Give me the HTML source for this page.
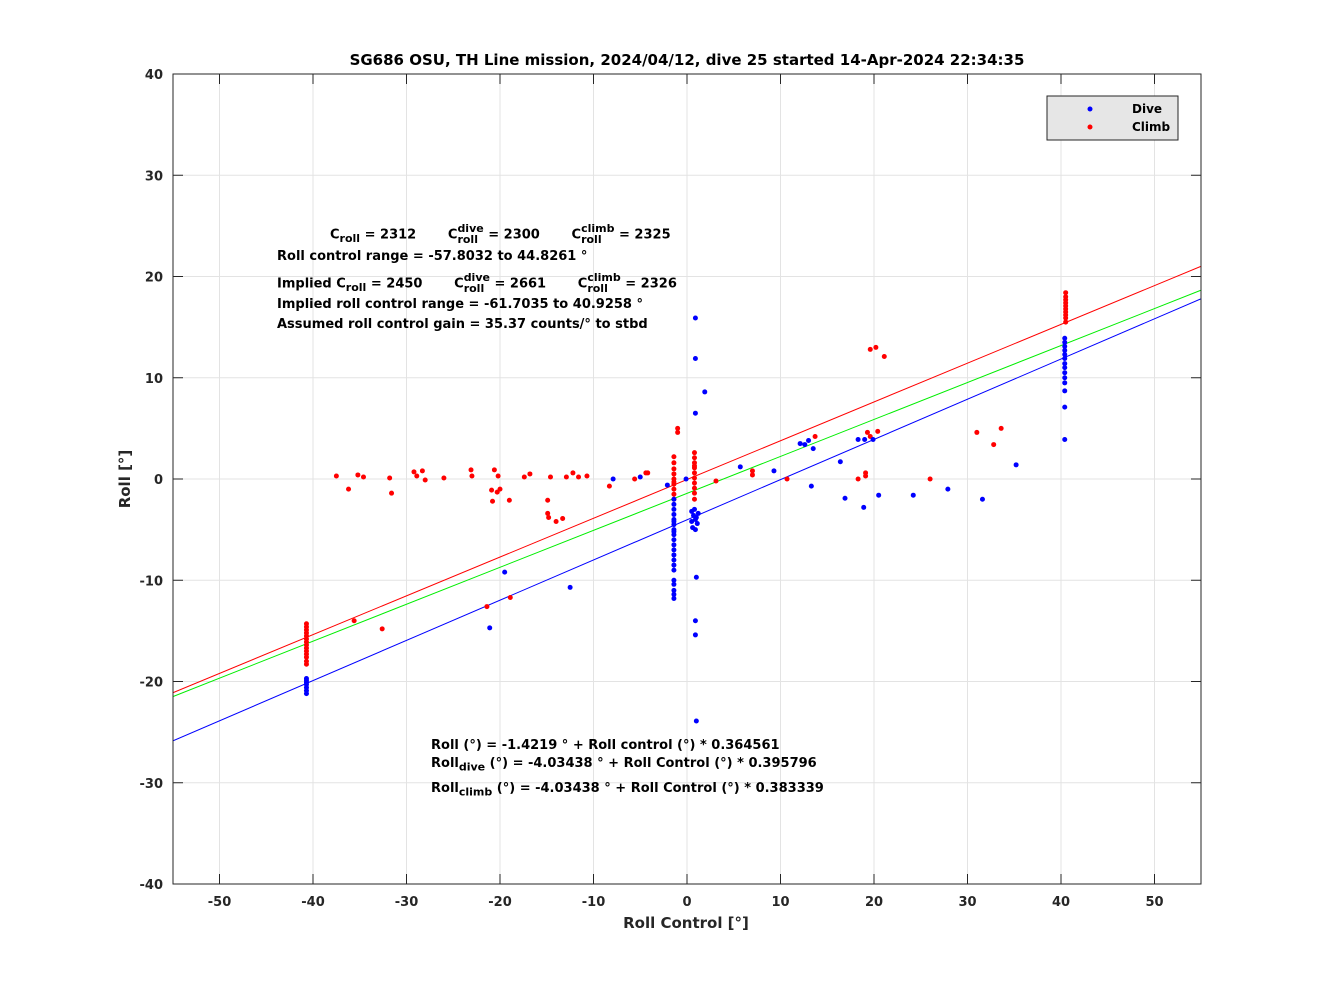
<!DOCTYPE html>
<html><head><meta charset="utf-8"><style>
body{margin:0;background:#fff;font-family:"DejaVu Sans","Liberation Sans",sans-serif;}
#wrap{position:relative;width:1328px;height:996px;}
.ann{position:absolute;font-weight:bold;font-size:13px;color:#000;white-space:nowrap;font-family:"DejaVu Sans",sans-serif;}
.ann sub{font-size:11px;}
.st{display:inline-block;vertical-align:middle;line-height:11px;font-size:11px;text-align:left;position:relative;top:-1px;}
</style></head><body>
<div id="wrap">
<svg id="chart" width="1328" height="996" style="position:absolute;left:0;top:0"></svg>
<div class="ann" style="left:330px;top:224px">C<sub>roll</sub> = 2312 &nbsp;&nbsp;&nbsp;&nbsp;&nbsp; C<span class="st">dive<br>roll</span> = 2300 &nbsp;&nbsp;&nbsp;&nbsp;&nbsp; C<span class="st">climb<br>roll</span> = 2325</div>
<div class="ann" style="left:277px;top:249px">Roll control range = -57.8032 to 44.8261 °</div>
<div class="ann" style="left:277px;top:273px">Implied C<sub>roll</sub> = 2450 &nbsp;&nbsp;&nbsp;&nbsp;&nbsp; C<span class="st">dive<br>roll</span> = 2661 &nbsp;&nbsp;&nbsp;&nbsp;&nbsp; C<span class="st">climb<br>roll</span> = 2326</div>
<div class="ann" style="left:277px;top:297px">Implied roll control range = -61.7035 to 40.9258 °</div>
<div class="ann" style="left:277px;top:317px">Assumed roll control gain = 35.37 counts/° to stbd</div>
<div class="ann" style="left:431px;top:738px">Roll (°) = -1.4219 ° + Roll control (°) * 0.364561</div>
<div class="ann" style="left:431px;top:756px">Roll<sub>dive</sub> (°) = -4.03438 ° + Roll Control (°) * 0.395796</div>
<div class="ann" style="left:431px;top:781px">Roll<sub>climb</sub> (°) = -4.03438 ° + Roll Control (°) * 0.383339</div>
</div>
<script>
const xTicks=[-50,-40,-30,-20,-10,0,10,20,30,40,50];
const yTicks=[-40,-30,-20,-10,0,10,20,30,40];
const lineSlopes=[0.383,0.365,0.397];
const lineIntercepts=[-0.05,-1.42,-4.03];
const lineColors=['#ff0000','#00ee00','#0000ff'];
const climbX=[-37.5,-36.2,-35.2,-34.6,-35.6,-32.6,-31.8,-31.6,-29.2,-28.9,-28.3,-28.0,-26.0,-23.1,-23.0,-21.4,-20.9,-20.8,-20.6,-20.3,-20.2,-20.0,-19.0,-18.9,-17.4,-16.8,-14.9,-14.9,-14.8,-14.6,-14.0,-13.3,-12.9,-12.2,-11.6,-10.7,-8.3,-5.6,-4.4,-4.2,-1.0,-1.0,3.1,7.0,7.0,10.7,13.7,18.3,19.1,19.1,19.3,19.6,20.2,21.1,19.6,20.4,26.0,31.0,32.8,33.6,
-40.7,-40.7,-40.7,-40.7,-40.7,-40.7,-40.7,-40.7,-40.7,-40.7,-40.7,-40.7,-40.7,-40.7,
-1.4,-1.4,-1.4,-1.4,-1.4,-1.4,-1.4,-1.4,-1.4,-1.4,0.8,0.8,0.8,0.8,0.8,0.8,0.8,0.8,0.8,0.8,0.8,
40.5,40.5,40.5,40.5,40.5,40.5,40.5,40.5,40.5,40.5];
const climbY=[0.3,-1.0,0.4,0.2,-14.0,-14.8,0.1,-1.4,0.7,0.3,0.8,-0.1,0.1,0.9,0.3,-12.6,-1.1,-2.2,0.9,-1.3,0.3,-1.0,-2.1,-11.7,0.2,0.5,-2.1,-3.4,-3.8,0.2,-4.2,-3.9,0.2,0.6,0.2,0.3,-0.7,0,0.6,0.6,5.0,4.6,-0.2,0.8,0.4,0,4.2,0,0.3,0.6,4.6,12.8,13.0,12.1,4.2,4.7,0,4.6,3.4,5.0,
-14.3,-14.6,-14.9,-15.2,-15.5,-15.8,-16.1,-16.4,-16.7,-17.0,-17.3,-17.6,-18.0,-18.3,
2.2,1.6,1.0,0.5,0,-0.5,-1.0,-1.5,-2.0,-0.3,2.6,2.1,1.6,1.1,0.6,0.1,-0.4,-0.9,-1.4,-2.0,1.3,
15.5,15.9,16.2,16.5,16.8,17.1,17.4,17.7,18.0,18.4];
const diveX=[-21.1,-19.5,-12.5,-7.9,-5.0,-2.1,0.9,0.9,0.9,1.9,1.0,0.9,0.9,1.0,-0.1,5.7,9.3,12.1,12.6,13.0,13.5,13.3,16.4,16.9,18.3,19.0,18.9,19.9,20.5,24.2,27.9,31.6,35.2,
-40.7,-40.7,-40.7,-40.7,-40.7,-40.7,-40.7,
-1.4,-1.4,-1.4,-1.4,-1.4,-1.4,-1.4,-1.4,-1.4,-1.4,-1.4,-1.4,-1.4,-1.4,-1.4,-1.4,-1.4,-1.4,-1.4,-1.4,-1.4,-1.4,
0.5,0.7,0.9,1.1,1.2,0.6,0.8,1.0,0.5,0.9,
40.4,40.4,40.4,40.4,40.4,40.4,40.4,40.4,40.4,40.4,40.4,40.4,40.4,40.4];
const diveY=[-14.7,-9.2,-10.7,0,0.2,-0.6,15.9,11.9,6.5,8.6,-9.7,-14.0,-15.4,-23.9,0,1.2,0.8,3.5,3.4,3.8,3.0,-0.7,1.7,-1.9,3.9,3.9,-2.8,3.9,-1.6,-1.6,-1.0,-2.0,1.4,
-19.7,-19.9,-20.1,-20.3,-20.6,-20.9,-21.2,
-2.0,-2.5,-3.0,-3.5,-4.0,-4.5,-5.0,-5.5,-6.0,-6.5,-7.0,-7.5,-8.0,-8.5,-9.0,-10.0,-10.4,-11.0,-11.4,-11.8,-4.2,-5.2,
-3.2,-3.6,-4.0,-4.4,-3.4,-4.8,-3.0,-3.8,-4.2,-5.0,
13.9,13.5,13.1,12.7,12.3,11.9,11.4,11.0,10.5,10.0,9.5,8.7,7.1,3.9];
const L=173,R=1201,T=74,B=884;
const xs=v=>687+v*9.35, ys=v=>479-v*10.125;
const svg=document.getElementById('chart');const NS='http://www.w3.org/2000/svg';
const FF='"DejaVu Sans","Liberation Sans",sans-serif';
function mk(t,a,p){const e=document.createElementNS(NS,t);for(const k in a)e.setAttribute(k,a[k]);(p||svg).appendChild(e);return e;}
let e;
e=mk('rect',{x:L,y:T,width:R-L,height:B-T,fill:'#fff'});


xTicks.forEach(v=>{const x=xs(v);
 e=mk('line',{x1:x,x2:x,y1:T,y2:B,stroke:'#e3e3e3'});
 
 
 mk('line',{x1:x,x2:x,y1:B,y2:B-10,stroke:'#262626'});mk('line',{x1:x,x2:x,y1:T,y2:T+10,stroke:'#262626'});
 e=mk('text',{x:x,y:B+22,'text-anchor':'middle','font-size':13,'font-weight':'bold',fill:'#262626','font-family':FF});e.textContent=v;
 
 });
yTicks.forEach(v=>{const y=ys(v);
 e=mk('line',{x1:L,x2:R,y1:y,y2:y,stroke:'#e3e3e3'});
 
 
 mk('line',{x1:L,x2:L+10,y1:y,y2:y,stroke:'#262626'});mk('line',{x1:R,x2:R-10,y1:y,y2:y,stroke:'#262626'});
 e=mk('text',{x:L-10,y:y+5,'text-anchor':'end','font-size':13,'font-weight':'bold',fill:'#262626','font-family':FF});e.textContent=v;
 
 });
const cp=mk('clipPath',{id:'cp'});mk('rect',{x:L,y:T,width:R-L,height:B-T},cp);
lineSlopes.forEach((s,i)=>{const x0=-55,x1=55;
 e=mk('line',{x1:xs(x0),y1:ys(lineIntercepts[i]+s*x0),x2:xs(x1),y2:ys(lineIntercepts[i]+s*x1),stroke:lineColors[i],'stroke-width':1,'clip-path':'url(#cp)'});
 
 });
climbX.forEach((v,i)=>{e=mk('circle',{cx:xs(v),cy:ys(climbY[i]),r:2.5,fill:'#ff0000'});
 
 });
diveX.forEach((v,i)=>{e=mk('circle',{cx:xs(v),cy:ys(diveY[i]),r:2.5,fill:'#0000ff'});
 
 });
e=mk('rect',{x:L,y:T,width:R-L,height:B-T,fill:'none',stroke:'#262626'});


e=mk('text',{x:687,y:65,'text-anchor':'middle','font-size':15,'font-weight':'bold',fill:'#000','font-family':FF});e.textContent='SG686 OSU, TH Line mission, 2024/04/12, dive 25 started 14-Apr-2024 22:34:35';


e=mk('text',{x:686,y:928,'text-anchor':'middle','font-size':15,'font-weight':'bold',fill:'#262626','font-family':FF});e.textContent='Roll Control [°]';


e=mk('text',{x:130,y:479,'text-anchor':'middle','font-size':15,'font-weight':'bold',fill:'#262626','font-family':FF,transform:'rotate(-90 130 479)'});e.textContent='Roll [°]';


const lg=mk('g',{});


mk('rect',{x:1047,y:96,width:131,height:44,fill:'#e6e6e6',stroke:'#262626'},lg);
mk('circle',{cx:1090,cy:109,r:2.5,fill:'#0000ff'},lg);mk('circle',{cx:1090,cy:127,r:2.5,fill:'#ff0000'},lg);
e=mk('text',{x:1132,y:113,'font-size':12,'font-weight':'bold','font-family':FF},lg);e.textContent='Dive';


e=mk('text',{x:1132,y:131,'font-size':12,'font-weight':'bold','font-family':FF},lg);e.textContent='Climb';


</script>
</body></html>
